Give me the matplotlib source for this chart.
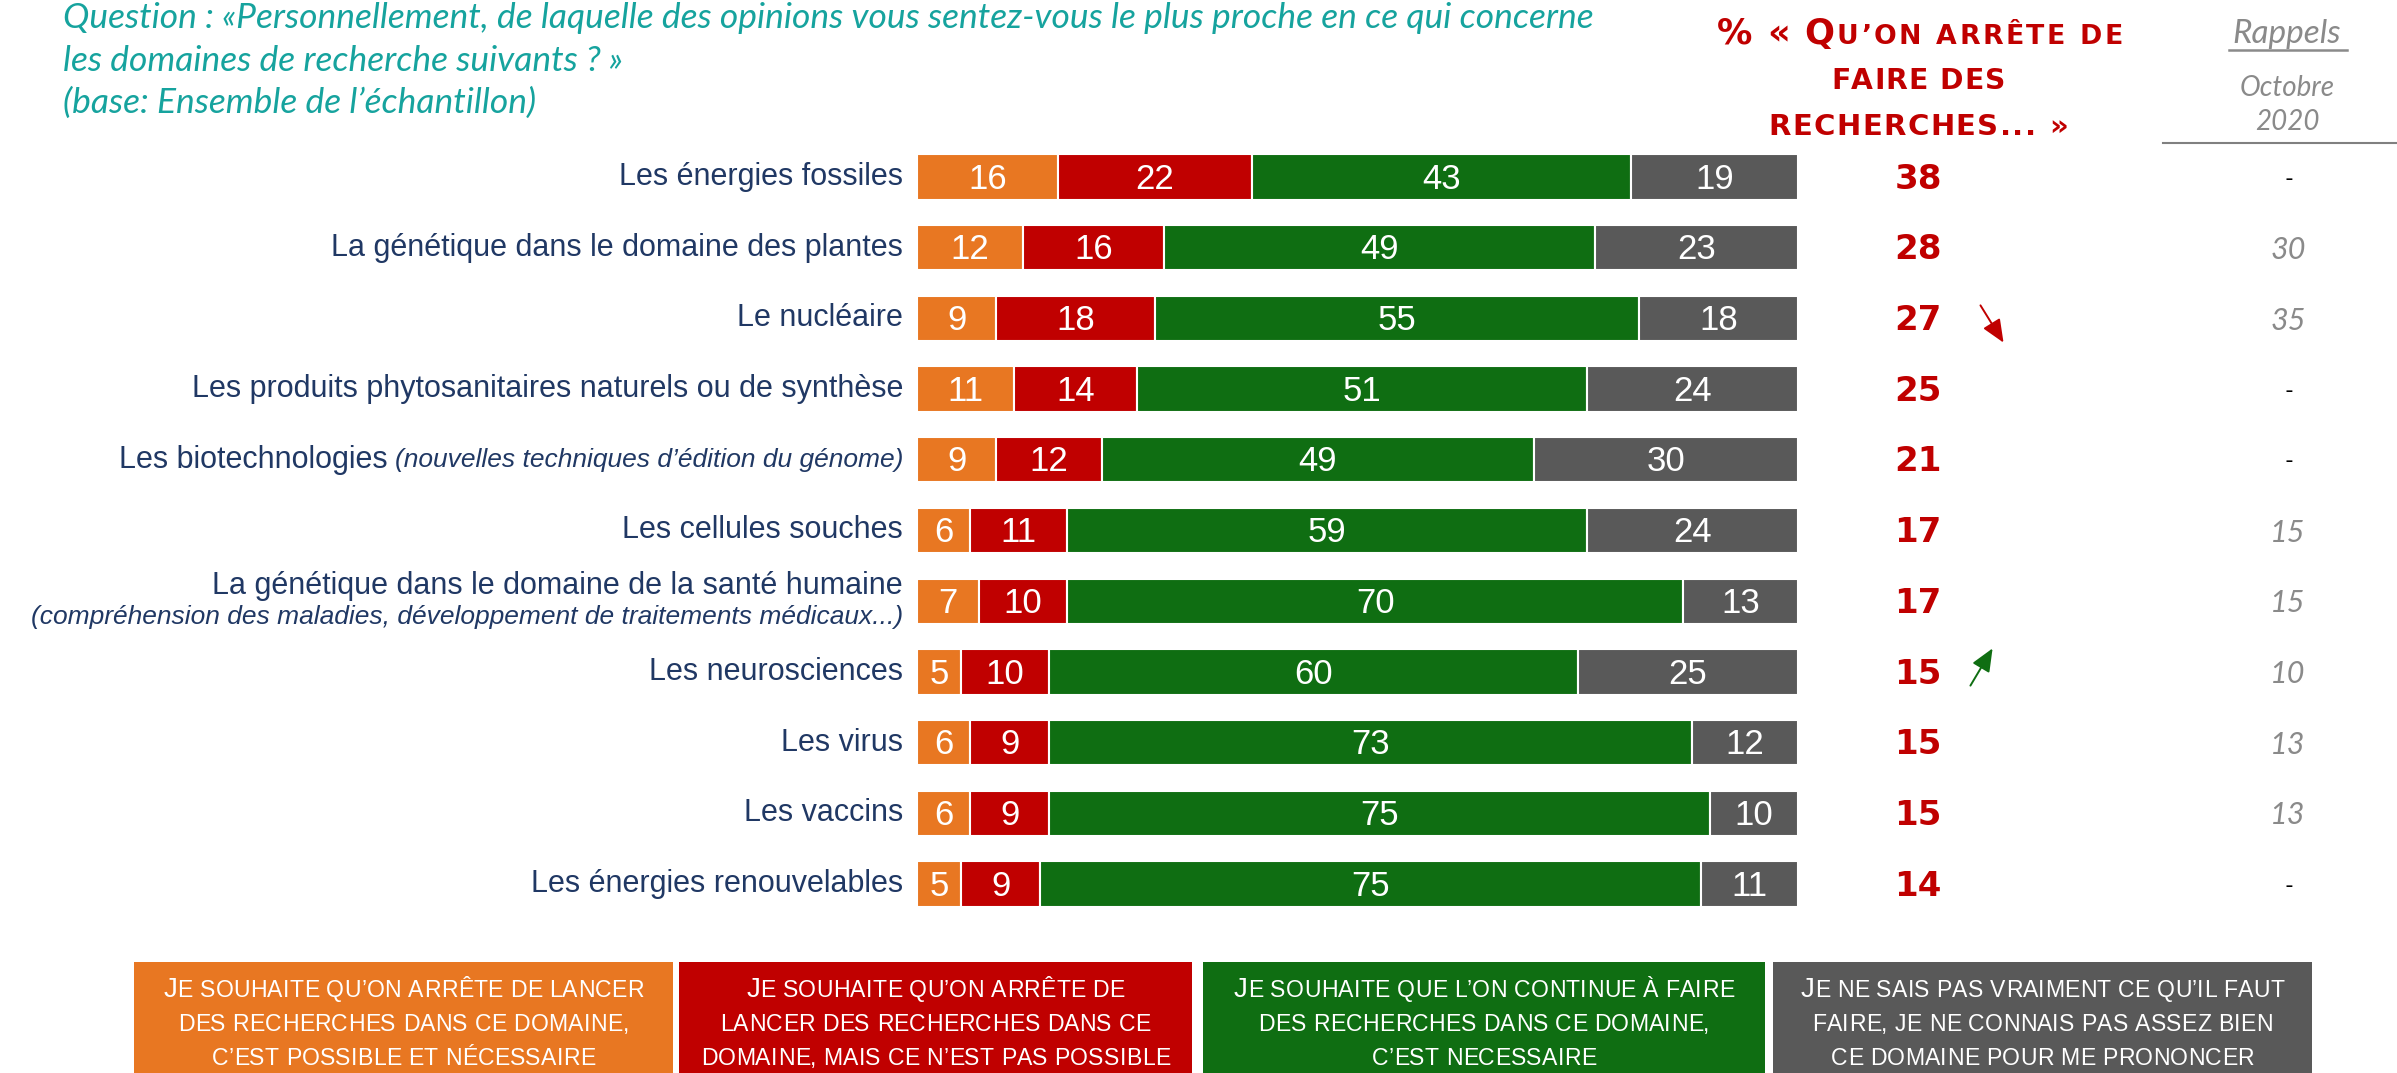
import matplotlib
matplotlib.use("Agg")
import matplotlib.pyplot as plt
from matplotlib.transforms import blended_transform_factory
from matplotlib.patches import FancyArrowPatch, Rectangle
from matplotlib.lines import Line2D

W, H = 2397, 1073

categories = [
    "Les énergies fossiles",
    "La génétique dans le domaine des plantes",
    "Le nucléaire",
    "Les produits phytosanitaires naturels ou de synthèse",
    "Les biotechnologies",
    "Les cellules souches",
    "La génétique dans le domaine de la santé humaine",
    "Les neurosciences",
    "Les virus",
    "Les vaccins",
    "Les énergies renouvelables",
]
category_notes = ["", "", "", "", "(nouvelles techniques d’édition du génome)", "",
                  "(compréhension des maladies, développement de traitements médicaux...)",
                  "", "", "", ""]
stop_possible = [16, 12, 9, 11, 9, 6, 7, 5, 6, 6, 5]
stop_impossible = [22, 16, 18, 14, 12, 11, 10, 10, 9, 9, 9]
continue_research = [43, 49, 55, 51, 49, 59, 70, 60, 73, 75, 75]
dont_know = [19, 23, 18, 24, 30, 24, 13, 25, 12, 10, 11]
stop_total = [38, 28, 27, 25, 21, 17, 17, 15, 15, 15, 14]
rappels_2020 = ["-", "30", "35", "-", "-", "15", "15", "10", "13", "13", "-"]
trend = ["", "", "down", "", "", "", "", "up", "", "", ""]

legend_labels = [
    ["Je souhaite qu’on arrête de lancer", "des recherches dans ce domaine,", "c’est possible et nécessaire"],
    ["Je souhaite qu’on arrête de", "lancer des recherches dans ce", "domaine, mais ce n’est pas possible"],
    ["Je souhaite que l’on continue à faire", "des recherches dans ce domaine,", "c’est necessaire"],
    ["Je ne sais pas vraiment ce qu’il faut", "faire, je ne connais pas assez bien", "ce domaine pour me prononcer"],
]
series = [stop_possible, stop_impossible, continue_research, dont_know]
colors = ["#E87722", "#C00000", "#0F6E12", "#595959"]

SANS = ["Liberation Sans", "DejaVu Sans"]
HEAVY = ["DejaVu Sans"]
LATO = ["Lato", "DejaVu Sans"]
NAVY = "#203864"
TEAL = "#16A39E"
DARKRED = "#C00000"
GREY = "#8A8A8A"

fig = plt.figure(figsize=(W / 100, H / 100), dpi=100)
renderer = fig.canvas.get_renderer()


def fx(x):
    return x / W


def fy(y):
    return 1 - y / H


# ---- main bar axes ----
row0, rowstep = 177, 70.7
top = row0 - 0.5 * rowstep
bottom = row0 + 10.5 * rowstep
x0, x1 = 917, 1798
ax = fig.add_axes([fx(x0), fy(bottom), (x1 - x0) / W, (bottom - top) / H])
ax.set_xlim(0, 100)
ax.set_ylim(len(categories) - 0.5, -0.5)
ax.axis("off")

ypos = list(range(len(categories)))
left = [0] * len(categories)
for vals, col in zip(series, colors):
    ax.barh(ypos, vals, left=left, height=0.64, color=col, edgecolor="white", linewidth=1.5)
    for i, v in enumerate(vals):
        ax.text(left[i] + v / 2, i + 0.03, str(v), ha="center", va="center", color="white",
                fontsize=25, family=SANS)
    left = [l + v for l, v in zip(left, vals)]

_wcache = {}


def width_of(s, **kw):
    key = (s, tuple(sorted((k, str(v)) for k, v in kw.items())))
    if key in _wcache:
        return _wcache[key]
    t = fig.text(0, 0, "|" + s + "|", **kw)
    t2 = fig.text(0, 0, "||", **kw)
    w = t.get_window_extent(renderer).width - t2.get_window_extent(renderer).width
    t.remove()
    t2.remove()
    _wcache[key] = w
    return w


# category labels
px_per_unit = (x1 - x0) / 100
for i, cat in enumerate(categories):
    note = category_notes[i]
    if note and i == 6:
        ax.text(-1.6, i - 0.22, cat, ha="right", va="center", fontsize=22, color=NAVY, family=SANS)
        ax.text(-1.6, i + 0.22, note, ha="right", va="center", fontsize=19, color=NAVY,
                family=SANS, style="italic")
    elif note:
        ax.text(-1.6, i, note, ha="right", va="center", fontsize=19, color=NAVY,
                family=SANS, style="italic")
        wn = width_of(note + " ", fontsize=19, family=SANS, style="italic")
        ax.text(-1.6 - wn / px_per_unit, i, cat, ha="right", va="center", fontsize=22,
                color=NAVY, family=SANS)
    else:
        ax.text(-1.6, i, cat, ha="right", va="center", fontsize=22, color=NAVY, family=SANS)

# right columns
bt = blended_transform_factory(fig.transFigure, ax.transData)
for i in range(len(categories)):
    ax.text(fx(1918), i + 0.03, str(stop_total[i]), transform=bt, ha="center", va="center",
            fontsize=24.5, color=DARKRED, family=HEAVY, weight="bold")
    r = rappels_2020[i]
    if r == "-":
        ax.text(fx(2289), i + 0.03, r, transform=bt, ha="center", va="center", fontsize=17,
                color="black", family=LATO)
    else:
        ax.text(fx(2288), i + 0.03, r, transform=bt, ha="center", va="center", fontsize=22,
                color=GREY, family=LATO, style="italic")

# arrows
for i, tr in enumerate(trend):
    if tr == "down":
        fig.add_artist(FancyArrowPatch(
            (fx(1979), fy(303)), (fx(2005), fy(345)), transform=fig.transFigure,
            arrowstyle="-|>,head_length=14,head_width=6", color=DARKRED, lw=1.4))
    elif tr == "up":
        fig.add_artist(FancyArrowPatch(
            (fx(1969), fy(688)), (fx(1994), fy(646)), transform=fig.transFigure,
            arrowstyle="-|>,head_length=14,head_width=6", color="#0F6E12", lw=1.4))


def smallcaps(xc, ybase, text, size, ratio, color, family, weight="normal", big_chars="",
              tracking=0.0, target=None):
    def layout(sz):
        chars = []
        for ch in text:
            big = ch.isupper() or ch in big_chars
            fs = sz if big else sz * ratio
            chars.append((ch.upper(), fs))
        widths = [width_of(c, fontsize=fs, family=family, weight=weight) for c, fs in chars]
        return chars, widths

    chars, widths = layout(size)
    if target is not None:
        natural = sum(widths)
        size = size * (target - tracking * (len(chars) - 1)) / natural
        chars, widths = layout(round(size, 2))
    total = sum(widths) + tracking * (len(chars) - 1)
    x = xc - total / 2
    for (c, fs), w in zip(chars, widths):
        if c != " ":
            fig.text(fx(x), fy(ybase), c, ha="left", va="baseline", fontsize=fs,
                     family=family, weight=weight, color=color)
        x += w + tracking


# header question
qlines = ["Question : «Personnellement, de laquelle des opinions vous sentez-vous le plus proche en ce qui concerne",
          "les domaines de recherche suivants ? »",
          "(base: Ensemble de l’échantillon)"]
for ln, yb in zip(qlines, [28, 71, 113]):
    fig.text(fx(63), fy(yb), ln, ha="left", va="baseline", fontsize=25.5, color=TEAL,
             family=LATO, style="italic")

# red header
smallcaps(1920, 44, "% « Qu’on arrête de", 22, 0.76, DARKRED, HEAVY, weight="bold",
          big_chars="%«", tracking=2.5, target=405)
smallcaps(1918, 89, "FAIRE DES", 20, 1.0, DARKRED, HEAVY, weight="bold", tracking=1.0, target=173)
smallcaps(1918, 135, "RECHERCHES... »", 20, 1.0, DARKRED, HEAVY, weight="bold", tracking=1.5,
          target=300)

# Rappels header
fig.text(fx(2287), fy(43), "Rappels", ha="center", va="baseline", fontsize=24, color=GREY,
         family=LATO, style="italic")
fig.add_artist(Line2D([fx(2229), fx(2347)], [fy(50), fy(50)], color=GREY, lw=1.8))
fig.text(fx(2287), fy(88), "Octobre", ha="center", va="center", fontsize=20, color=GREY,
         family=LATO, style="italic")
fig.text(fx(2287), fy(122), "2020", ha="center", va="center", fontsize=20, color=GREY,
         family=LATO, style="italic")
fig.add_artist(Line2D([fx(2163), fx(2397)], [fy(143), fy(143)], color="#808080", lw=1.5))

# legend boxes
boxes = [(134, 673), (679, 1192), (1203, 1765), (1773, 2312)]
for (bx0, bx1), col, lines in zip(boxes, colors, legend_labels):
    fig.add_artist(Rectangle((fx(bx0), fy(1073)), (bx1 - bx0) / W, (1073 - 962) / H,
                             transform=fig.transFigure, facecolor=col, edgecolor="none"))
    xc = (bx0 + bx1) / 2
    for ln, yb in zip(lines, [997, 1031, 1065]):
        smallcaps(xc, yb, ln, 20, 0.83, "white", SANS, tracking=0.3)

fig.savefig("out.png", dpi=100)
